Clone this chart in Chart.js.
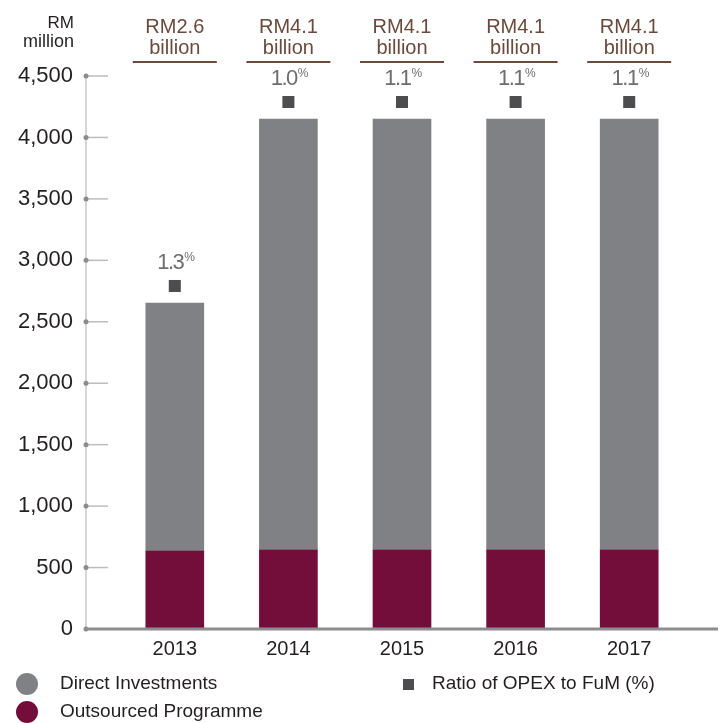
<!DOCTYPE html>
<html>
<head>
<meta charset="utf-8">
<script src="https://cdn.jsdelivr.net/npm/chart.js@4.4.0/dist/chart.umd.min.js"></script>
<style>
  body { margin: 0; background: #fff; }
  canvas { display: block; }
</style>
</head>
<body>
<canvas id="grafico" width="724" height="723"></canvas>
<script>
const anos = ["2013", "2014", "2015", "2016", "2017"];
const terceirizado = [635, 643, 643, 643, 643];
const direto = [2018, 3507, 3507, 3507, 3507];
const razao = ["1.3", "1.0", "1.1", "1.1", "1.1"];
const totalTexto = ["RM2.6", "RM4.1", "RM4.1", "RM4.1", "RM4.1"];
const ticksY = [0, 500, 1000, 1500, 2000, 2500, 3000, 3500, 4000, 4500];

const FONTE = "'Liberation Sans', Arial, sans-serif";
const CINZA = "#808184";
const VINHO = "#730e3b";
const MARCADOR = "#4d4d4f";
const MARROM = "#6a4a3c";

const decoracao = {
    id: "decoracao",
    afterDatasetsDraw(chart) {
        const ctx = chart.ctx;
        const x = chart.scales.x;
        const y = chart.scales.y;
        const eixoX = 86;
        const topo = y.getPixelForValue(4500);
        const base = y.getPixelForValue(0);
        ctx.save();

        // eixo vertical e marcas
        ctx.strokeStyle = "#c8c8c9";
        ctx.lineWidth = 1.5;
        ctx.beginPath();
        ctx.moveTo(eixoX, topo);
        ctx.lineTo(eixoX, base);
        ctx.stroke();
        ticksY.forEach(v => {
            const py = y.getPixelForValue(v);
            ctx.strokeStyle = "#bdbdbe";
            ctx.beginPath();
            ctx.moveTo(eixoX, py);
            ctx.lineTo(108, py);
            ctx.stroke();
            ctx.fillStyle = "#8c8c8e";
            ctx.beginPath();
            ctx.arc(eixoX, py, 2.5, 0, Math.PI * 2);
            ctx.fill();
        });

        // linha de base
        ctx.strokeStyle = "#8d8d8f";
        ctx.lineWidth = 3;
        ctx.beginPath();
        ctx.moveTo(eixoX, base);
        ctx.lineTo(718, base);
        ctx.stroke();

        // unidade
        ctx.fillStyle = "#231f20";
        ctx.font = "17px " + FONTE;
        ctx.textAlign = "right";
        ctx.textBaseline = "alphabetic";
        ctx.fillText("RM", 74, 28);
        ctx.font = "18px " + FONTE;
        ctx.fillText("million", 74, 47);

        anos.forEach((ano, i) => {
            const cx = x.getPixelForValue(i);

            // total em bilhões
            ctx.fillStyle = MARROM;
            ctx.font = "20px " + FONTE;
            ctx.textAlign = "center";
            ctx.fillText(totalTexto[i], cx, 33);
            ctx.fillText("billion", cx, 54);
            ctx.strokeStyle = MARROM;
            ctx.lineWidth = 2;
            ctx.beginPath();
            ctx.moveTo(cx - 42, 62);
            ctx.lineTo(cx + 42, 62);
            ctx.stroke();

            // marcador da razão
            const topoBarra = y.getPixelForValue(terceirizado[i] + direto[i]);
            ctx.fillStyle = MARCADOR;
            ctx.fillRect(cx - 6, topoBarra - 23, 12, 12);

            ctx.fillStyle = "#6d6e70";
            ctx.letterSpacing = "-1.5px";
            ctx.font = "22px " + FONTE;
            const w1 = ctx.measureText(razao[i]).width;
            ctx.font = "12px " + FONTE;
            const w2 = ctx.measureText("%").width;
            const ini = cx - (w1 + w2) / 2;
            ctx.textAlign = "left";
            ctx.font = "22px " + FONTE;
            ctx.fillText(razao[i], ini, topoBarra - 34);
            ctx.font = "12px " + FONTE;
            ctx.fillText("%", ini + w1 + 1, topoBarra - 42);
            ctx.letterSpacing = "0px";
        });

        // legenda
        ctx.textAlign = "left";
        ctx.textBaseline = "middle";
        ctx.font = "19px " + FONTE;
        const itens = [
            { cor: CINZA, texto: chart.data.datasets[1].label, y: 684 },
            { cor: VINHO, texto: chart.data.datasets[0].label, y: 712 }
        ];
        itens.forEach(it => {
            ctx.fillStyle = it.cor;
            ctx.beginPath();
            ctx.arc(27, it.y, 11, 0, Math.PI * 2);
            ctx.fill();
            ctx.fillStyle = "#231f20";
            ctx.fillText(it.texto, 60, it.y);
        });
        ctx.fillStyle = MARCADOR;
        ctx.fillRect(403, 679, 11, 11);
        ctx.fillStyle = "#231f20";
        ctx.fillText("Ratio of OPEX to FuM (%)", 432, 684);

        ctx.restore();
    }
};

const ctx = document.getElementById("grafico").getContext("2d");
new Chart(ctx, {
    type: "bar",
    data: {
        labels: anos,
        datasets: [
            {
                label: "Outsourced Programme",
                data: terceirizado,
                backgroundColor: VINHO,
                barThickness: 58
            },
            {
                label: "Direct Investments",
                data: direto,
                backgroundColor: CINZA,
                barThickness: 58
            }
        ]
    },
    options: {
        responsive: false,
        devicePixelRatio: 1,
        animation: false,
        layout: { padding: { top: 76, right: 38, bottom: 0, left: 0 } },
        plugins: {
            legend: { display: false },
            tooltip: { enabled: false }
        },
        scales: {
            x: {
                stacked: true,
                grid: { display: false, drawTicks: false },
                border: { display: false },
                ticks: { color: "#231f20", font: { family: FONTE, size: 20 }, padding: 8 },
                afterFit: s => { s.height = 94; }
            },
            y: {
                stacked: true,
                min: 0,
                max: 4500,
                grid: { display: false, drawTicks: false },
                border: { display: false },
                ticks: {
                    stepSize: 500,
                    color: "#231f20",
                    font: { family: FONTE, size: 22 },
                    padding: 45,
                    callback: v => v.toLocaleString("en-US")
                },
                afterFit: s => { s.width = 118; }
            }
        }
    },
    plugins: [decoracao]
});
</script>
</body>
</html>
